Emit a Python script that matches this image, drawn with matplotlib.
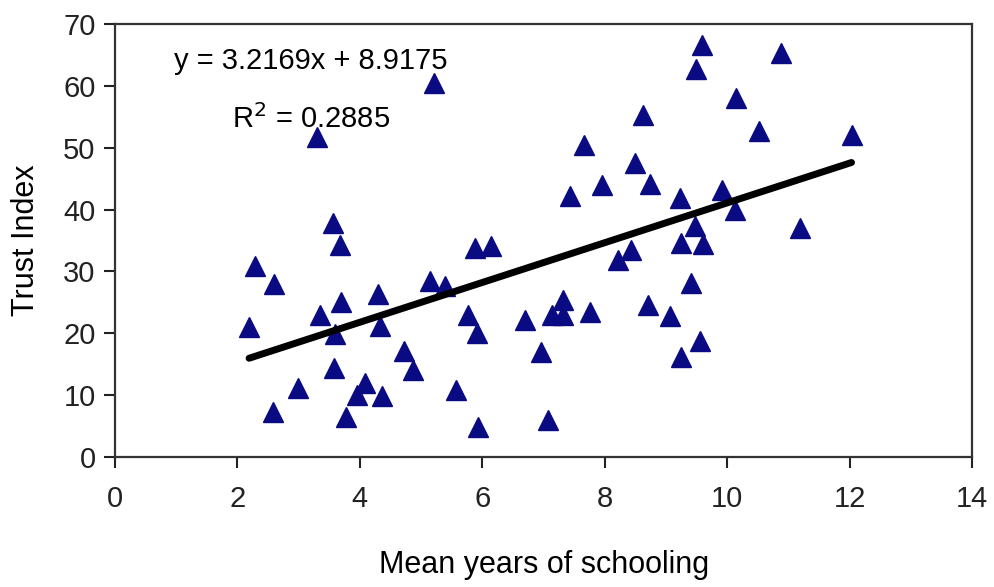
import matplotlib
matplotlib.use("Agg")
import matplotlib.pyplot as plt
import numpy as np

plt.rcParams['font.family'] = ['Liberation Sans', 'DejaVu Sans']

# mean years of schooling vs trust index
schooling = [2.19, 2.29, 2.60, 2.58, 2.99, 3.30, 3.35, 3.56, 3.68, 3.59, 3.69, 3.58,
             3.77, 3.95, 4.08, 4.30, 4.33, 4.36, 4.72, 4.87, 5.15, 5.21, 5.39, 5.57,
             5.77, 5.92, 5.88, 6.14, 5.93, 6.70, 6.96, 7.07, 7.14, 7.32, 7.32, 7.43,
             7.66, 7.76, 7.96, 8.22, 8.43, 8.50, 8.63, 8.74, 8.71, 9.07, 9.23, 9.25,
             9.25, 9.40, 9.48, 9.49, 9.59, 9.56, 9.61, 9.92, 10.15, 10.13, 10.52,
             10.87, 11.19, 12.03]
trust = [21.0, 30.8, 27.9, 7.3, 11.1, 51.7, 23.0, 37.8, 34.3, 19.9, 25.1, 14.4,
         6.5, 10.0, 11.9, 26.4, 21.2, 9.8, 17.1, 14.0, 28.4, 60.5, 27.7, 10.9,
         23.0, 20.1, 33.8, 34.1, 4.9, 22.2, 17.0, 6.0, 23.0, 25.4, 23.0, 42.2,
         50.4, 23.5, 43.9, 31.8, 33.4, 47.6, 55.3, 44.2, 24.6, 22.8, 41.9, 34.6,
         16.1, 28.1, 37.4, 62.8, 66.6, 18.8, 34.4, 43.1, 58.1, 40.0, 52.7,
         65.4, 37.0, 52.0]

slope = 3.2169
intercept = 8.9175
r2 = 0.2885
x_ticks = [0, 2, 4, 6, 8, 10, 12, 14]
y_ticks = [0, 10, 20, 30, 40, 50, 60, 70]

fig = plt.figure(figsize=(9.94, 5.87), dpi=100)
ax = fig.add_axes([0.1157, 0.2215, 0.8623, 0.7375])

ax.plot(schooling, trust, linestyle='none', marker='^', markersize=15,
        color='#0a0a82', markeredgecolor='#0a0a82', zorder=3)

xs = np.array([min(schooling), max(schooling)])
ax.plot(xs, slope * xs + intercept, color='black', linewidth=5,
        solid_capstyle='round', zorder=4)

ax.text(3.2, 64.0, "y = 3.2169x + 8.9175", ha='center', va='center', fontsize=21)
ax.text(3.2, 54.6, "R$^2$ = %.4f" % r2, ha='center', va='center', fontsize=21)

ax.set_xlim(0, 14)
ax.set_ylim(0, 70)
ax.set_xticks(x_ticks)
ax.set_yticks(y_ticks)
ax.tick_params(axis='both', direction='out', length=8, width=1.5,
               labelsize=21, colors='#222222')
ax.tick_params(axis='x', pad=12)
ax.tick_params(axis='y', pad=6)
for s in ax.spines.values():
    s.set_linewidth(1.6)
    s.set_color('#333333')

ax.set_xlabel("Mean years of schooling", fontsize=22, labelpad=27)
ax.set_ylabel("Trust Index", fontsize=22, labelpad=16)

fig.savefig("out.png", dpi=100)
